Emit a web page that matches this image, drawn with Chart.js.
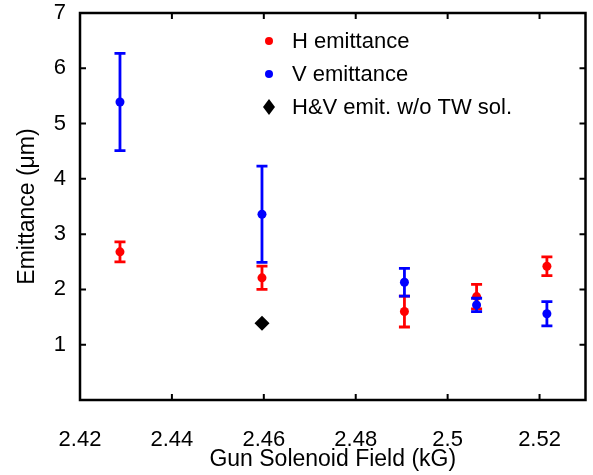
<!DOCTYPE html>
<html>
<head>
<meta charset="utf-8">
<script src="https://cdn.jsdelivr.net/npm/chart.js@4.4.1/dist/chart.umd.min.js"></script>
<style>
  html, body { margin: 0; padding: 0; background: #fff; }
</style>
</head>
<body>
<canvas id="emitChart" width="593" height="475"></canvas>
<script>
// values
var fieldKG = [2.4287, 2.4596, 2.4906, 2.5063, 2.5216];
var hEmit = [2.68, 2.21, 1.60, 1.87, 2.42];
var hErr = [0.18, 0.21, 0.28, 0.22, 0.17];
var vEmit = [5.39, 3.36, 2.13, 1.72, 1.56];
var vErr = [0.88, 0.87, 0.25, 0.12, 0.22];
var noTwField = [2.4596];
var noTwEmit = [1.39];

var xTicks = [2.42, 2.44, 2.46, 2.48, 2.5, 2.52];
var yTicks = [1, 2, 3, 4, 5, 6, 7];

var FONT = 'Liberation Sans, Arial, Helvetica, sans-serif';

function toPoints(xs, ys) {
    return xs.map(function(v, i) { return { x: v, y: ys[i] }; });
}

// frame, inward ticks, error bars and the legend inside the plot
var framePlugin = {
    id: 'framePlugin',
    beforeDatasetDraw: function(chart, args) {
        var ds = chart.data.datasets[args.index];
        if (!ds.errors) return;
        var ctx = chart.ctx, xs = chart.scales.x, ys = chart.scales.y;
        ctx.save();
        ctx.strokeStyle = ds.pointBackgroundColor;
        ctx.lineWidth = 2.8;
        ds.data.forEach(function(p, i) {
            var px = xs.getPixelForValue(p.x);
            var top = ys.getPixelForValue(p.y + ds.errors[i]);
            var bot = ys.getPixelForValue(p.y - ds.errors[i]);
            ctx.beginPath();
            ctx.moveTo(px, top); ctx.lineTo(px, bot);
            ctx.moveTo(px - 5.5, top); ctx.lineTo(px + 5.5, top);
            ctx.moveTo(px - 5.5, bot); ctx.lineTo(px + 5.5, bot);
            ctx.stroke();
        });
        ctx.restore();
    },
    afterDraw: function(chart) {
        var ctx = chart.ctx, a = chart.chartArea;
        var xs = chart.scales.x, ys = chart.scales.y;
        ctx.save();
        ctx.strokeStyle = '#000';
        ctx.lineWidth = 2.5;
        ctx.strokeRect(a.left, a.top, a.right - a.left, a.bottom - a.top);
        ctx.lineWidth = 2;
        ctx.beginPath();
        xTicks.forEach(function(v) {
            var px = xs.getPixelForValue(v);
            ctx.moveTo(px, a.bottom); ctx.lineTo(px, a.bottom - 6);
            ctx.moveTo(px, a.top); ctx.lineTo(px, a.top + 6);
        });
        yTicks.forEach(function(v) {
            var py = ys.getPixelForValue(v);
            ctx.moveTo(a.left, py); ctx.lineTo(a.left + 6, py);
            ctx.moveTo(a.right, py); ctx.lineTo(a.right - 6, py);
        });
        ctx.stroke();

        // legend
        var order = [1, 0, 2];
        ctx.font = '22px ' + FONT;
        ctx.textBaseline = 'middle';
        ctx.textAlign = 'left';
        order.forEach(function(di, row) {
            var ds = chart.data.datasets[di];
            var cy = 41 + row * 33;
            var cx = 269;
            ctx.fillStyle = ds.pointBackgroundColor;
            ctx.beginPath();
            if (ds.pointStyle === 'rectRot') {
                ctx.moveTo(cx, cy - 8); ctx.lineTo(cx + 6, cy);
                ctx.lineTo(cx, cy + 8); ctx.lineTo(cx - 6, cy);
                ctx.closePath();
            } else {
                ctx.arc(cx, cy, 4, 0, Math.PI * 2);
            }
            ctx.fill();
            ctx.fillStyle = '#000';
            ctx.fillText(ds.label, 292, cy + 1);
        });
        ctx.restore();
    }
};

new Chart(document.getElementById('emitChart'), {
    type: 'scatter',
    data: {
        datasets: [{
            label: 'V emittance',
            data: toPoints(fieldKG, vEmit),
            errors: vErr,
            pointBackgroundColor: '#0000ff',
            pointBorderWidth: 0,
            pointRadius: 4.5,
            order: 1
        }, {
            label: 'H emittance',
            data: toPoints(fieldKG, hEmit),
            errors: hErr,
            pointBackgroundColor: '#ff0000',
            pointBorderWidth: 0,
            pointRadius: 4.5,
            order: 2
        }, {
            label: 'H&V emit. w/o TW sol.',
            data: toPoints(noTwField, noTwEmit),
            pointBackgroundColor: '#000000',
            pointBorderWidth: 0,
            pointStyle: 'rectRot',
            pointRadius: 7.5,
            order: 0
        }]
    },
    options: {
        responsive: false,
        animation: false,
        devicePixelRatio: 1,
        layout: { padding: { top: 13, right: 6, left: 0, bottom: 0 } },
        plugins: {
            legend: { display: false },
            tooltip: { enabled: false }
        },
        scales: {
            x: {
                type: 'linear',
                min: 2.42,
                max: 2.53,
                afterBuildTicks: function(s) { s.ticks = xTicks.map(function(v) { return { value: v }; }); },
                afterFit: function(s) {
                    s.height = 75;
                    s.paddingLeft = 0;
                    s.paddingRight = 0;
                },
                grid: { display: false, drawTicks: false },
                border: { display: false },
                ticks: {
                    color: '#000',
                    font: { family: FONT, size: 22 },
                    padding: 27,
                    maxRotation: 0,
                    callback: function(v) { return String(v); }
                },
                title: {
                    display: true,
                    text: 'Gun Solenoid Field (kG)',
                    color: '#000',
                    font: { family: FONT, size: 23 },
                    padding: { top: 0, bottom: 2 }
                }
            },
            y: {
                min: 0,
                max: 7,
                afterBuildTicks: function(s) { s.ticks = yTicks.map(function(v) { return { value: v }; }); },
                afterFit: function(s) {
                    s.width = 80;
                    s.paddingTop = 0;
                    s.paddingBottom = 0;
                },
                grid: { display: false, drawTicks: false },
                border: { display: false },
                ticks: {
                    color: '#000',
                    font: { family: FONT, size: 22 },
                    padding: 14
                },
                title: {
                    display: true,
                    text: 'Emittance (μm)',
                    color: '#000',
                    font: { family: FONT, size: 23 },
                    padding: { top: 14, bottom: 0 }
                }
            }
        }
    },
    plugins: [framePlugin]
});
</script>
</body>
</html>
